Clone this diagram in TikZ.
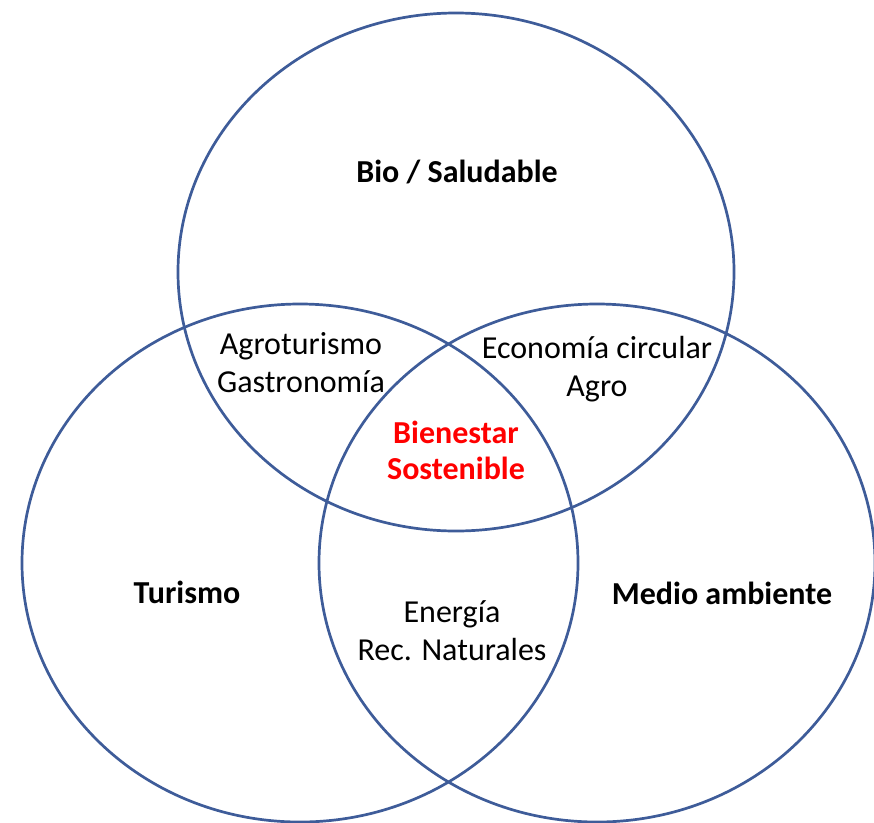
\documentclass[tikz,border=0pt]{standalone}
\usepackage{fontspec}
\setmainfont{Carlito}
\usetikzlibrary{shapes.geometric}
\definecolor{ringblue}{HTML}{3E5C99}
\definecolor{redtext}{HTML}{FF0000}
\begin{document}
\begin{tikzpicture}[x=1pt,y=-1pt,
  ring/.style={draw=ringblue, line width=2.7pt, ellipse, inner sep=0pt,
    minimum width=556pt, minimum height=518pt},
  lab/.style={align=center, inner sep=0pt, font=\fontsize{32}{38}\selectfont},
  blab/.style={lab, font=\fontsize{32}{36}\selectfont\bfseries}]
\useasboundingbox (0,0) rectangle (874,822);
\node[ring] (bio) at (456,272) {};
\node[ring] (tur) at (300,563) {};
\node[ring] (med) at (597,563) {};
\node[blab] (tbio) at (457,172) {Bio / Saludable};
\node[blab] (ttur) at (187,592) {Turismo};
\node[blab] (tmed) at (722,593) {Medio ambiente};
\node[lab] (tagro) at (301,363) {Agroturismo\\Gastronomía};
\node[lab] (teco) at (597,369) {Economía circular\\Agro};
\node[blab, text=redtext] (tbien) at (456,450) {Bienestar\\Sostenible};
\node[lab] (tene) at (452,631) {Energía\\Rec. Naturales};
\end{tikzpicture}
\end{document}
